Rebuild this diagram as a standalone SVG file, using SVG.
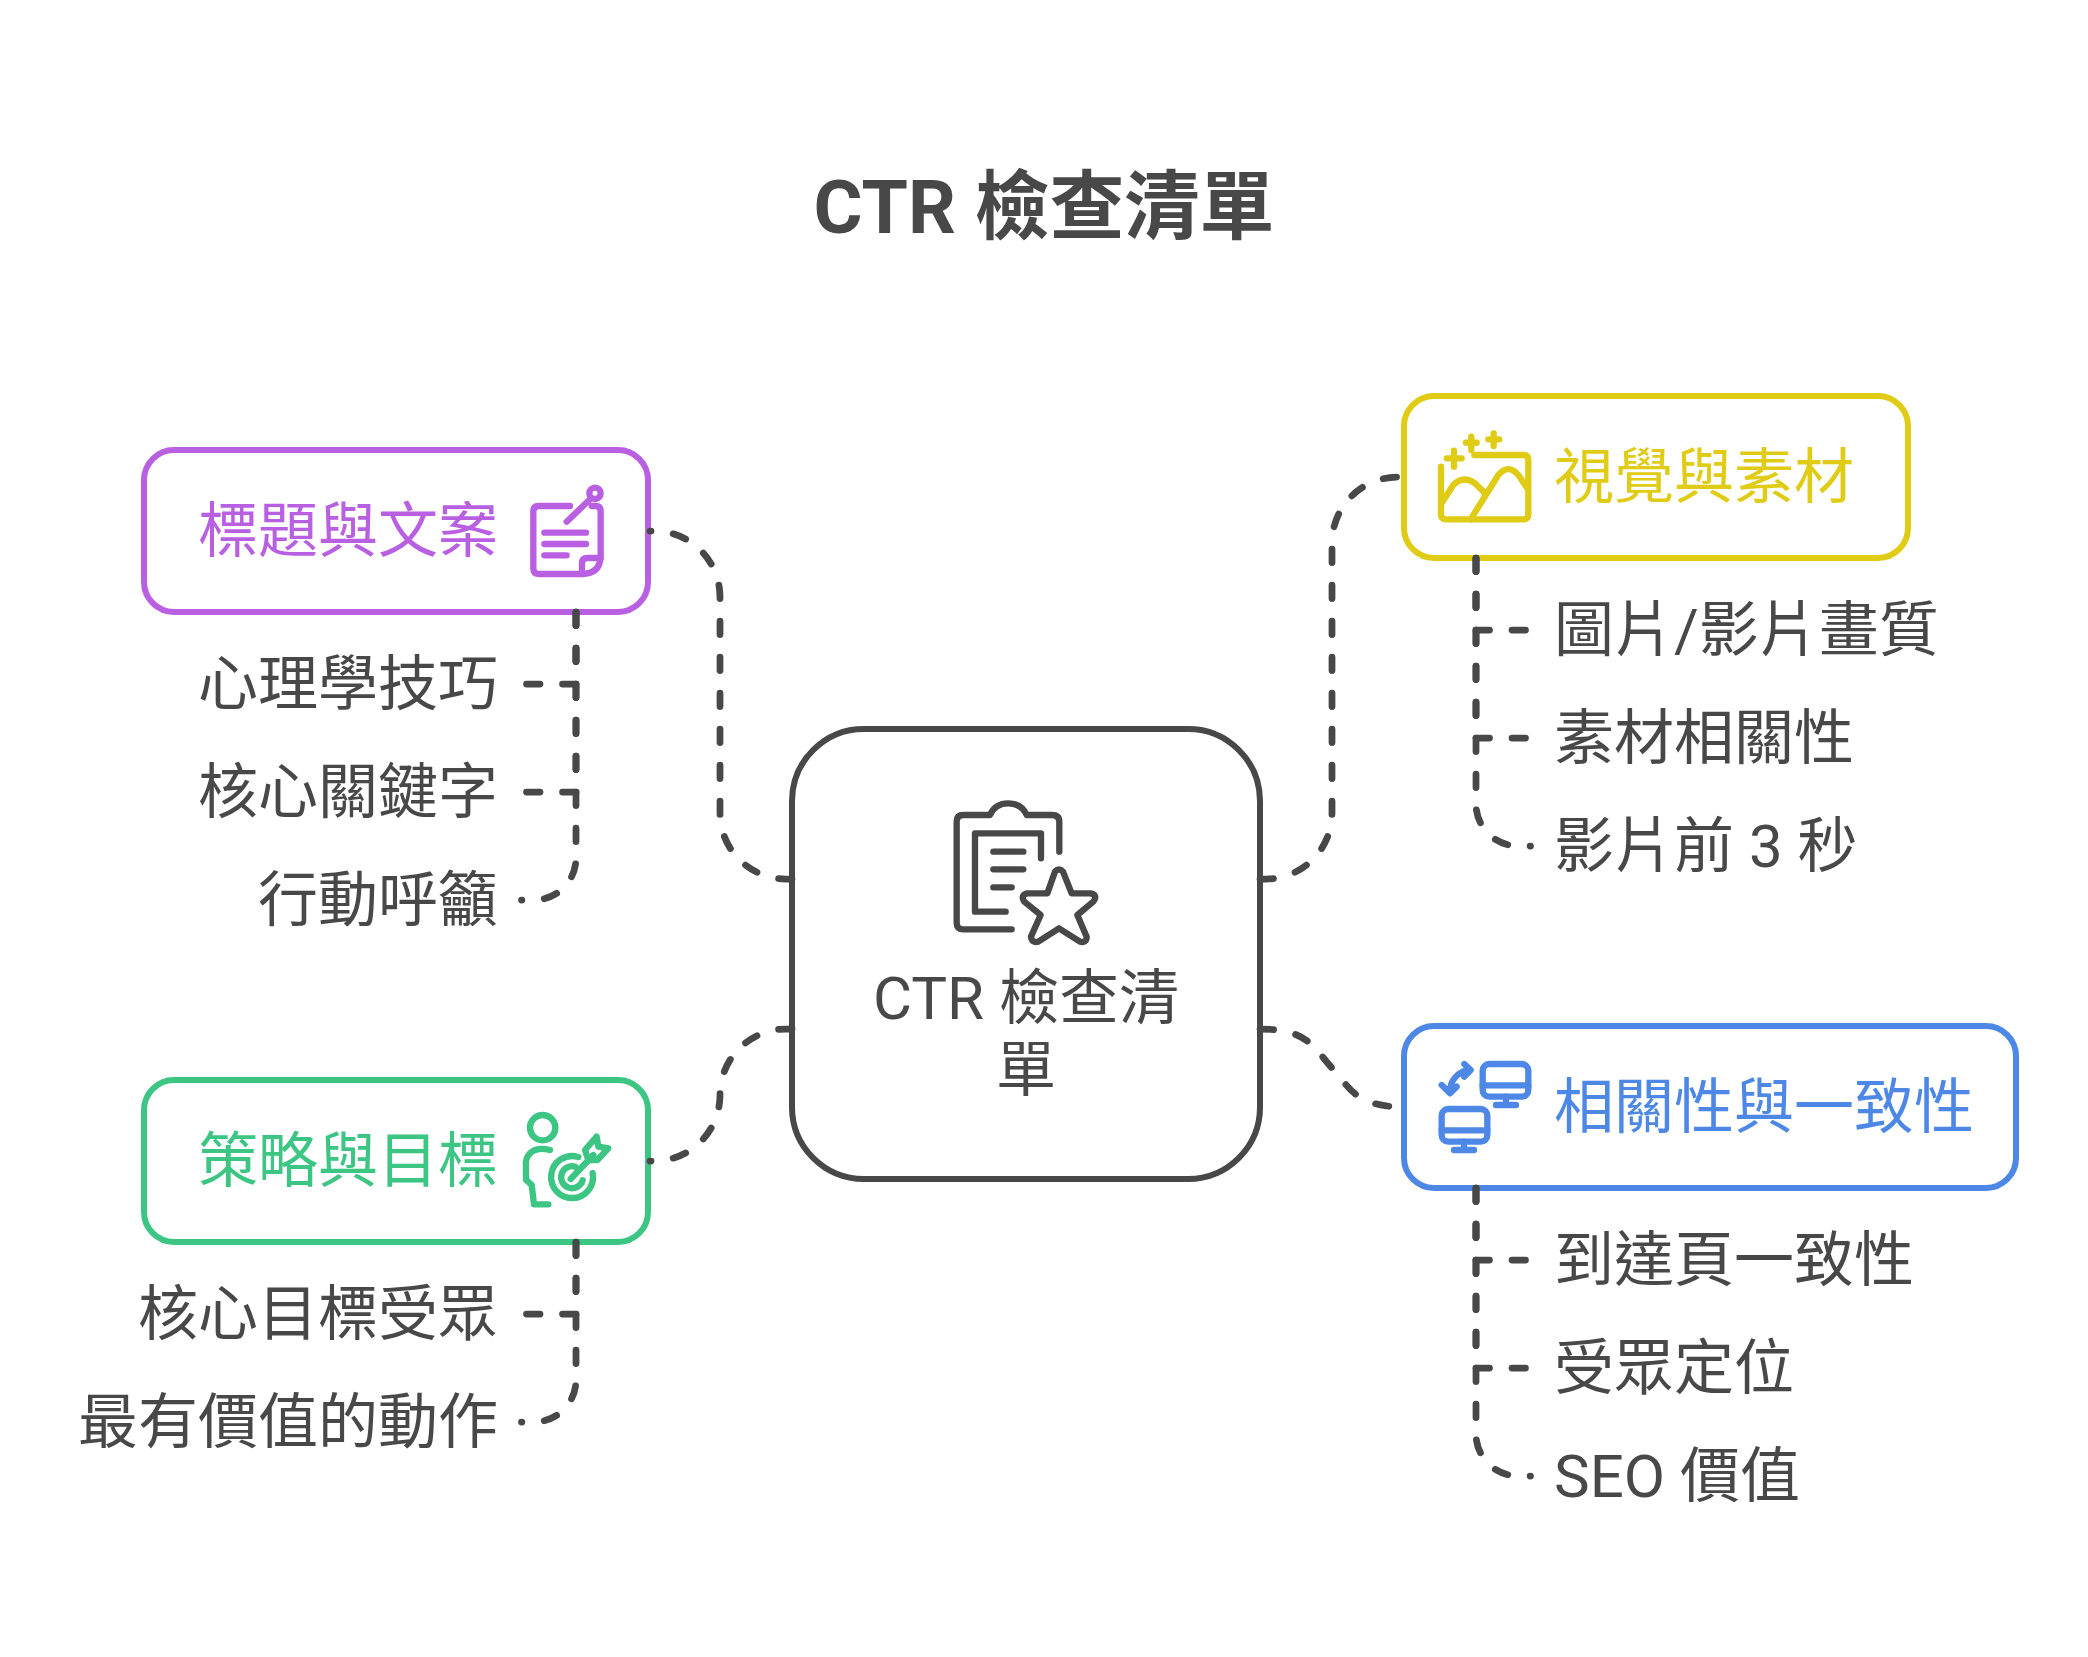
<svg xmlns="http://www.w3.org/2000/svg" width="2088" height="1657" viewBox="0 0 2088 1657">
<style>
text{font-family:"Roboto","Noto Sans CJK TC",sans-serif;font-size:60px;fill:#484848}
.title{font-size:75px;font-weight:700;text-anchor:middle}
.mid{text-anchor:middle}
.end{text-anchor:end}
.box{fill:#fff;stroke-width:6}
.ic{fill:none;stroke-width:19;stroke-linecap:round;stroke-linejoin:round}
.c{fill:none;stroke:#484848;stroke-width:6.75;stroke-linecap:round;stroke-dasharray:13.5 22.5}
.pu{stroke:#b960e2}.ye{stroke:#e0cb15}.bl{stroke:#4e88e7}.gr{stroke:#3cc583}.da{stroke:#484848}
</style>
<rect width="2088" height="1657" fill="#fff"/>
<text class="title" x="1044" y="233">CTR 檢查清單</text>

<g id="node-center">
<rect class="box da" x="792" y="729" width="468" height="450" rx="72"/>
<g class="ic da" transform="translate(940,790) scale(.3333)">
<path d="M215 418H70Q50 418 50 398V95Q50 75 70 75H150Q165 40 205 40Q245 40 260 75H335Q358 75 358 95V185"/>
<path d="M197 365H105V130H303V205"/>
<path d="M160 185H250M160 238H250M160 292H215"/>
<path d="M345 245Q357 232 369 245L395 310H452Q475 315 460 335L412 375L440 440Q440 460 420 455L357 415L295 455Q275 460 273 440L302 375L253 335Q240 315 262 310H322Z"/>
</g>
<text class="mid" x="1026" y="1019">CTR 檢查清</text>
<text class="mid" x="1026" y="1091">單</text>
</g>

<g id="node-purple">
<rect class="box pu" x="144" y="450" width="504" height="162" rx="30"/>
<text class="end" style="fill:#b960e2" x="498" y="552">標題與文案</text>
<g class="ic pu" transform="translate(510,480) scale(.3333)">
<path d="M180 78H85Q70 78 70 95V265Q70 282 85 282H215Q272 282 272 225V95Q272 78 258 78H245"/>
<circle cx="255" cy="40" r="17"/>
<path d="M240 58L170 125M103 158H228M103 192H228M103 226H170"/>
<path d="M216 282V250Q216 234 232 234H272"/>
</g>
</g>
<g id="leaf-purple">
<text class="end" x="498" y="705">心理學技巧</text>
<text class="end" x="498" y="813">核心關鍵字</text>
<text class="end" x="498" y="921">行動呼籲</text>
</g>

<g id="node-green">
<rect class="box gr" x="144" y="1080" width="504" height="162" rx="30"/>
<text class="end" style="fill:#3cc583" x="498" y="1182">策略與目標</text>
<g class="ic gr" transform="translate(510,1105) scale(.3333)">
<circle cx="98" cy="68" r="38"/>
<path d="M120 135Q80 125 60 145Q45 160 48 185V225L65 240L72 298H115"/>
<path d="M205 156A63 63 0 1 0 248 204"/>
<path d="M196 185A33 33 0 1 0 218 226"/>
<path d="M182 222L250 150"/>
<path d="M225 135L260 95L265 125L295 130L262 165L235 165Z"/>
</g>
</g>
<g id="leaf-green">
<text class="end" x="498" y="1335">核心目標受眾</text>
<text class="end" x="498" y="1443">最有價值的動作</text>
</g>

<g id="node-yellow">
<rect class="box ye" x="1404" y="396" width="504" height="162" rx="30"/>
<text style="fill:#e0cb15" x="1554" y="498">視覺與素材</text>
<g class="ic ye" transform="translate(1430,420) scale(.3333)">
<path d="M33 140V283Q33 298 48 298H280Q295 298 295 283V120Q295 105 280 105H133"/>
<path d="M38 245L70 195Q100 165 135 190L165 220"/>
<path d="M122 298L205 165Q235 130 265 165L292 205"/>
<path d="M50 115H95M72 92V140M108 68H140M124 50V90M175 58H208M191 40V78"/>
</g>
</g>
<g id="leaf-yellow">
<text x="1554" y="651">圖片/影片畫質</text>
<text x="1554" y="759">素材相關性</text>
<text x="1554" y="867">影片前 3 秒</text>
</g>

<g id="node-blue">
<rect class="box bl" x="1404" y="1026" width="612" height="162" rx="30"/>
<text style="fill:#4e88e7" x="1554" y="1128">相關性與一致性</text>
<g class="ic bl" transform="translate(1430,1050) scale(.3333)">
<rect x="158" y="42" width="137" height="98" rx="20"/>
<path d="M158 106H295M228 140V165M198 165H258"/>
<rect x="35" y="177" width="137" height="98" rx="20"/>
<path d="M35 241H172M102 275V300M72 300H132"/>
<path d="M60 125C60 90 85 65 118 58M35 105L60 130L80 110M103 42L122 60L103 80"/>
</g>
</g>
<g id="leaf-blue">
<text x="1554" y="1281">到達頁一致性</text>
<text x="1554" y="1389">受眾定位</text>
<text x="1554" y="1497">SEO 價值</text>
</g>

<g id="connectors">
<path class="c" d="M792 879H786A66 66 0 0 1 720 813V597A66 66 0 0 0 654 531H650"/>
<path class="c" d="M792 1029H786A66 66 0 0 0 720 1095A66 66 0 0 1 654 1161H650"/>
<path class="c" d="M1260 879H1266A66 66 0 0 0 1332 813V543A66 66 0 0 1 1398 477H1404"/>
<path class="c" d="M1260 1029C1310 1029 1315 1050 1332 1068C1349 1086 1354 1107 1404 1107"/>
<path class="c" d="M576 612V684H522"/>
<path class="c" d="M576 612V792H522"/>
<path class="c" d="M576 612V858A42 42 0 0 1 534 900H521.5"/>
<path class="c" d="M576 1242V1314H522"/>
<path class="c" d="M576 1242V1380A42 42 0 0 1 534 1422H521.5"/>
<path class="c" d="M1476 558V630H1530"/>
<path class="c" d="M1476 558V738H1530"/>
<path class="c" d="M1476 558V804A42 42 0 0 0 1518 846H1530.5"/>
<path class="c" d="M1476 1188V1260H1530"/>
<path class="c" d="M1476 1188V1368H1530"/>
<path class="c" d="M1476 1188V1434A42 42 0 0 0 1518 1476H1530.5"/>
</g>
</svg>
